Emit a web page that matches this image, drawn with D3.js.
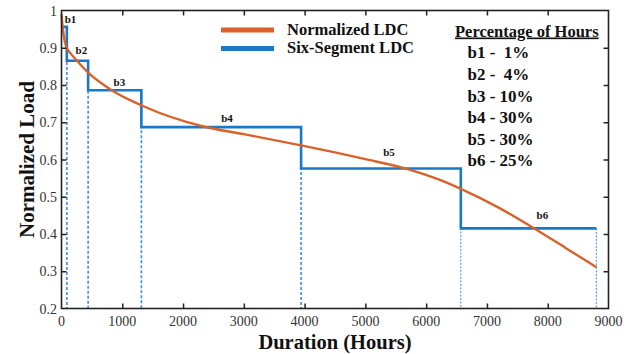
<!DOCTYPE html>
<head>
  <meta charset="utf-8">
  <style>
    body { margin: 0; background: #fff; }
    text { font-family: "Liberation Serif", "Times New Roman", serif; }
    .tick-label { font-size: 14px; fill: #333; }
    .bold { font-weight: bold; fill: #111; }
  </style>
  <script src="https://d3js.org/d3.v7.min.js"></script>
</head>
<body>
<script>
  // segment boundaries (hours) and levels of the six-segment LDC
  const segBounds = [0, 88, 438, 1314, 3942, 6570, 8800];
  const segLevels = [0.956, 0.865, 0.786, 0.687, 0.576, 0.415];
  const segNames = ['b1', 'b2', 'b3', 'b4', 'b5', 'b6'];
  const segLabelHours = [148, 327, 953, 2723, 5388, 7912];
  const segLabelLoad = [0.966, 0.883, 0.797, 0.701, 0.609, 0.441];
  const pctLabels = ['b1 -  1%', 'b2 -  4%', 'b3 - 10%', 'b4 - 30%', 'b5 - 30%', 'b6 - 25%'];

  // normalized load duration curve
  const ldcHours = [0, 20, 45, 77, 150, 255, 439, 826, 1320, 2350, 3000, 3942, 4500, 5000, 5651, 6226, 6570, 7200, 7780, 8300, 8800];
  const ldcLoad = [0.99, 0.955, 0.925, 0.903, 0.885, 0.865, 0.833, 0.786, 0.745, 0.688, 0.668, 0.638, 0.619, 0.601, 0.576, 0.545, 0.521, 0.47, 0.415, 0.362, 0.311];

  const xTicks = [0, 1000, 2000, 3000, 4000, 5000, 6000, 7000, 8000, 9000];
  const yTicks = [0.2, 0.3, 0.4, 0.5, 0.6, 0.7, 0.8, 0.9, 1];

  const w = 638, h = 354;
  const orange = '#d9622b', blue = '#1a78c8', lightBlue = '#3d8cf0';

  const svg = d3.select('body').append('svg')
      .attr('width', w)
      .attr('height', h);

  const x = d3.scaleLinear().domain([0, 9000]).range([61.5, 608.5]);
  const y = d3.scaleLinear().domain([0.2, 1]).range([308.5, 10.5]);

  // dashed verticals under each step boundary
  svg.append('g').selectAll('line')
    .data(segBounds.slice(1))
    .enter().append('line')
      .attr('x1', d => x(d)).attr('x2', d => x(d))
      .attr('y1', (d, i) => y(segLevels[i]))
      .attr('y2', y(0.2))
      .attr('stroke', lightBlue)
      .attr('stroke-width', (d, i) => i >= 4 ? 1 : 1.6)
      .attr('stroke-dasharray', (d, i) => i >= 4 ? '2,1.5' : '3,2');

  // step line
  const stepPts = [];
  segLevels.forEach((v, i) => {
    stepPts.push([segBounds[i], v]);
    stepPts.push([segBounds[i + 1], v]);
  });
  svg.append('path')
    .datum(stepPts)
    .attr('fill', 'none')
    .attr('stroke', blue)
    .attr('stroke-width', 2.6)
    .attr('d', d3.line().x(d => x(d[0])).y(d => y(d[1])));

  // LDC curve
  svg.append('path')
    .datum(ldcHours.map((d, i) => [d, ldcLoad[i]]))
    .attr('fill', 'none')
    .attr('stroke', orange)
    .attr('stroke-width', 2.4)
    .attr('d', d3.line().curve(d3.curveMonotoneX).x(d => x(d[0])).y(d => y(d[1])));

  // segment labels
  svg.append('g').selectAll('text')
    .data(segNames)
    .enter().append('text')
      .attr('class', 'bold')
      .attr('x', (d, i) => x(segLabelHours[i]))
      .attr('y', (d, i) => y(segLabelLoad[i]))
      .attr('text-anchor', 'middle')
      .attr('font-size', '11px')
      .text(d => d);

  // axes: ticks inward on all four sides
  const inner = xTicks.slice(1, -1);
  const innerY = yTicks.slice(1, -1);
  svg.append('g')
     .attr('transform', `translate(0, ${y(0.2)})`)
     .call(d3.axisTop(x).tickValues(inner).tickSize(5).tickFormat(''));
  svg.append('g')
     .attr('transform', `translate(0, ${y(1)})`)
     .call(d3.axisBottom(x).tickValues(inner).tickSize(5).tickFormat(''));
  svg.append('g')
     .attr('transform', `translate(${x(0)}, 0)`)
     .call(d3.axisRight(y).tickValues(innerY).tickSize(5).tickFormat(''));
  svg.append('g')
     .attr('transform', `translate(${x(9000)}, 0)`)
     .call(d3.axisLeft(y).tickValues(innerY).tickSize(5).tickFormat(''));
  svg.selectAll('.domain').remove();
  svg.selectAll('.tick line').attr('stroke', '#222').attr('stroke-width', 1.5);

  svg.append('rect')
    .attr('x', x(0)).attr('y', y(1))
    .attr('width', x(9000) - x(0)).attr('height', y(0.2) - y(1))
    .attr('fill', 'none')
    .attr('stroke', '#222')
    .attr('stroke-width', 1.6);

  // tick labels
  svg.append('g').selectAll('text')
    .data(xTicks)
    .enter().append('text')
      .attr('class', 'tick-label')
      .attr('x', d => x(d))
      .attr('y', 326)
      .attr('text-anchor', 'middle')
      .text(d => d);
  svg.append('g').selectAll('text')
    .data(yTicks)
    .enter().append('text')
      .attr('class', 'tick-label')
      .attr('x', 57)
      .attr('y', d => y(d) + 5)
      .attr('text-anchor', 'end')
      .text(d => d);

  // axis titles
  svg.append('text')
    .attr('class', 'bold')
    .attr('x', x(4500))
    .attr('y', 348.5)
    .attr('text-anchor', 'middle')
    .attr('font-size', '20.5px')
    .text('Duration (Hours)');
  svg.append('text')
    .attr('class', 'bold')
    .attr('transform', `translate(34, ${y(0.6)}) rotate(-90)`)
    .attr('text-anchor', 'middle')
    .attr('font-size', '21px')
    .text('Normalized Load');

  // legend
  const legend = [['Normalized LDC', orange], ['Six-Segment LDC', blue]];
  legend.forEach((d, i) => {
    const ly = 30 + i * 18.5;
    svg.append('line')
      .attr('x1', 221).attr('x2', 274)
      .attr('y1', ly).attr('y2', ly)
      .attr('stroke', d[1])
      .attr('stroke-width', 5);
    svg.append('text')
      .attr('class', 'bold')
      .attr('x', 287)
      .attr('y', ly + 4.5)
      .attr('font-size', '16.5px')
      .text(d[0]);
  });

  // percentage table
  svg.append('text')
    .attr('class', 'bold')
    .attr('x', 455)
    .attr('y', 36.5)
    .attr('font-size', '16.5px')
    .attr('text-decoration', 'underline')
    .text('Percentage of Hours');
  svg.append('g').selectAll('text')
    .data(pctLabels)
    .enter().append('text')
      .attr('class', 'bold')
      .attr('x', 467.5)
      .attr('y', (d, i) => 58.3 + i * 21.6)
      .attr('font-size', '17px')
      .style('white-space', 'pre')
      .text(d => d);
</script>
</body>
